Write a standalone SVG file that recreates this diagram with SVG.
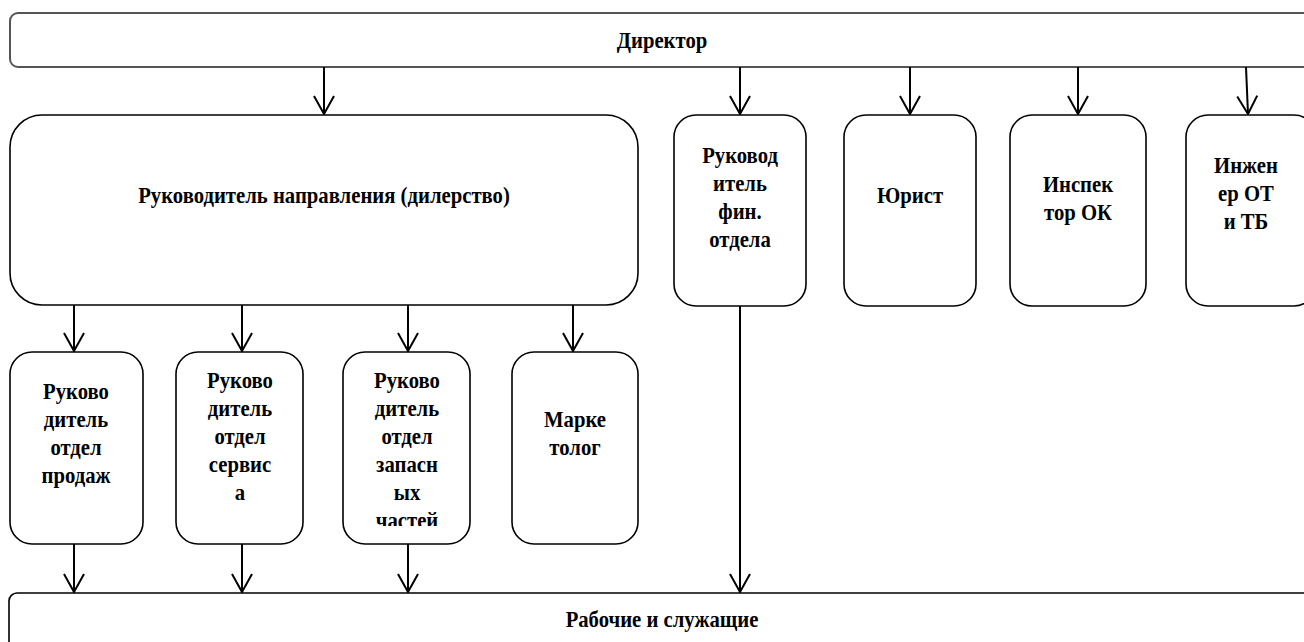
<svg xmlns="http://www.w3.org/2000/svg" width="1304" height="642" viewBox="0 0 1304 642">
<style>
.box{fill:#fff;stroke:#000;stroke-width:1.6}
.gbox{fill:#fff;stroke:#555;stroke-width:2}
.t{font-family:'Liberation Serif','DejaVu Serif','Times New Roman',serif;font-weight:bold;font-size:23px;fill:#000;text-anchor:middle}
.c{stroke:#000;stroke-width:2;fill:none}
</style>
<defs>
<marker id="v" viewBox="-20 -11 21 22" refX="0" refY="0" markerWidth="21" markerHeight="22" markerUnits="userSpaceOnUse" orient="auto">
<path d="M-18,-10 L0,0 L-18,10" fill="none" stroke="#000" stroke-width="2"/>
</marker>
<clipPath id="clip3"><rect x="343" y="352" width="128" height="174"/></clipPath>
</defs>
<g id="director"><rect class="gbox" x="10" y="13" width="1304" height="54" rx="8"/><g transform="translate(662 0) scale(0.9 1)"><text class="t" x="0" y="48">Директор</text></g></g>
<g id="dealer"><rect class="box" x="10" y="115" width="628" height="190" rx="32"/><g transform="translate(324 0) scale(0.9 1)"><text class="t" x="0" y="203">Руководитель направления (дилерство)</text></g></g>
<g id="fin"><rect class="box" x="674" y="115" width="132" height="191" rx="22"/><g transform="translate(740 0) scale(0.9 1)"><text class="t"><tspan x="0" y="163">Руковод</tspan><tspan x="0" y="191">итель</tspan><tspan x="0" y="219">фин.</tspan><tspan x="0" y="247">отдела</tspan></text></g></g>
<g id="lawyer"><rect class="box" x="844" y="115" width="132" height="191" rx="22"/><g transform="translate(910 0) scale(0.9 1)"><text class="t" x="0" y="203">Юрист</text></g></g>
<g id="inspector"><rect class="box" x="1010" y="115" width="136" height="191" rx="22"/><g transform="translate(1078 0) scale(0.9 1)"><text class="t"><tspan x="0" y="192">Инспек</tspan><tspan x="0" y="220">тор ОК</tspan></text></g></g>
<g id="engineer"><rect class="box" x="1186" y="115" width="130" height="191" rx="22"/><g transform="translate(1246 0) scale(0.9 1)"><text class="t"><tspan x="0" y="173">Инжен</tspan><tspan x="0" y="201">ер ОТ</tspan><tspan x="0" y="229">и ТБ</tspan></text></g></g>
<g id="sales"><rect class="box" x="10" y="352" width="133" height="192" rx="22"/><g transform="translate(76 0) scale(0.9 1)"><text class="t"><tspan x="0" y="399">Руково</tspan><tspan x="0" y="427">дитель</tspan><tspan x="0" y="455">отдел</tspan><tspan x="0" y="483">продаж</tspan></text></g></g>
<g id="service"><rect class="box" x="176" y="352" width="127" height="192" rx="22"/><g transform="translate(240 0) scale(0.9 1)"><text class="t"><tspan x="0" y="388">Руково</tspan><tspan x="0" y="416">дитель</tspan><tspan x="0" y="444">отдел</tspan><tspan x="0" y="472">сервис</tspan><tspan x="0" y="500">а</tspan></text></g></g>
<g id="parts"><rect class="box" x="343" y="352" width="127" height="192" rx="22"/><g clip-path="url(#clip3)"><g transform="translate(407 0) scale(0.9 1)"><text class="t"><tspan x="0" y="388">Руково</tspan><tspan x="0" y="416">дитель</tspan><tspan x="0" y="444">отдел</tspan><tspan x="0" y="472">запасн</tspan><tspan x="0" y="500">ых</tspan><tspan x="0" y="528">частей</tspan></text></g></g></g>
<g id="marketing"><rect class="box" x="512" y="352" width="126" height="192" rx="22"/><g transform="translate(575 0) scale(0.9 1)"><text class="t"><tspan x="0" y="427">Марке</tspan><tspan x="0" y="455">толог</tspan></text></g></g>
<g id="workers"><rect class="box" x="9" y="593" width="1310" height="60" rx="8"/><g transform="translate(662 0) scale(0.9 1)"><text class="t" x="0" y="627">Рабочие и служащие</text></g></g>
<g id="connectors">
<line class="c" x1="324" y1="67" x2="324" y2="114" marker-end="url(#v)"/>
<line class="c" x1="740" y1="67" x2="740" y2="114" marker-end="url(#v)"/>
<line class="c" x1="910" y1="67" x2="910" y2="114" marker-end="url(#v)"/>
<line class="c" x1="1078" y1="67" x2="1078" y2="114" marker-end="url(#v)"/>
<line class="c" x1="1246" y1="67" x2="1248" y2="114" marker-end="url(#v)"/>
<line class="c" x1="74" y1="305" x2="74" y2="351" marker-end="url(#v)"/>
<line class="c" x1="242" y1="305" x2="242" y2="351" marker-end="url(#v)"/>
<line class="c" x1="408" y1="305" x2="408" y2="351" marker-end="url(#v)"/>
<line class="c" x1="573" y1="305" x2="573" y2="351" marker-end="url(#v)"/>
<line class="c" x1="74" y1="544" x2="74" y2="592" marker-end="url(#v)"/>
<line class="c" x1="242" y1="544" x2="242" y2="592" marker-end="url(#v)"/>
<line class="c" x1="408" y1="544" x2="408" y2="592" marker-end="url(#v)"/>
<line class="c" x1="740" y1="306" x2="740" y2="592" marker-end="url(#v)"/>
</g>
</svg>
